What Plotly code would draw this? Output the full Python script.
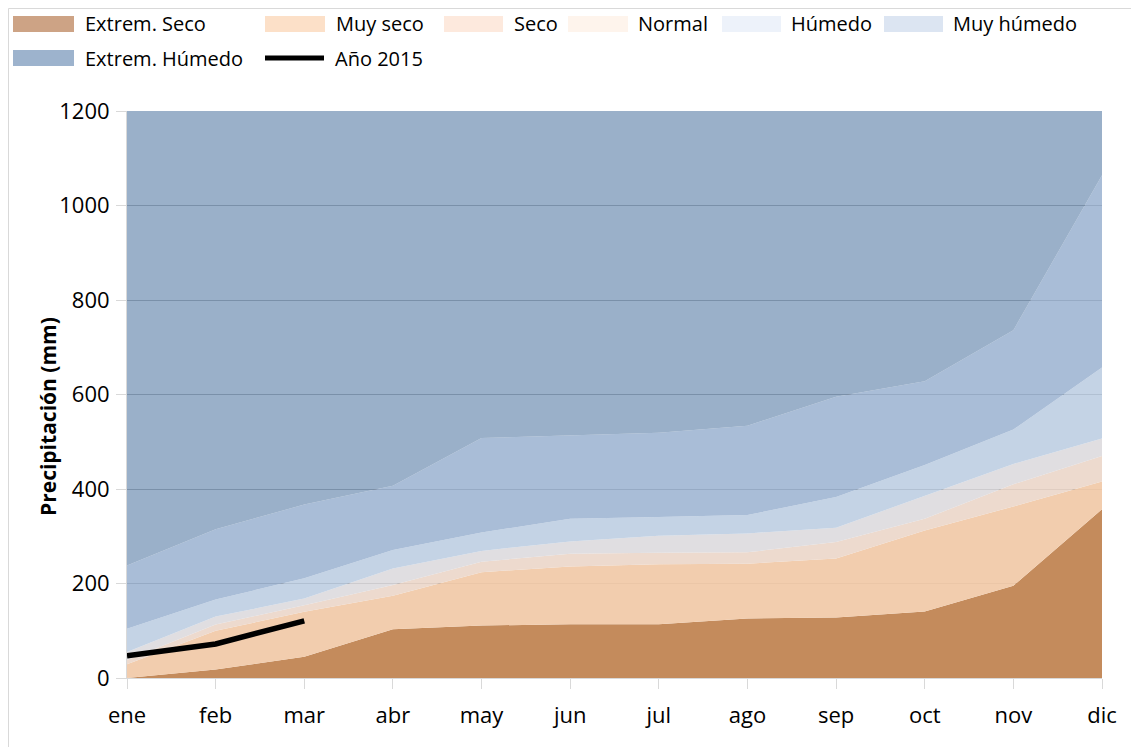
import plotly.graph_objects as go

# ---------------- data ----------------
months = ["ene", "feb", "mar", "abr", "may", "jun", "jul", "ago", "sep", "oct", "nov", "dic"]
extrem_seco = [0, 18, 45, 103, 111, 114, 114, 126, 128, 141, 195, 357]
muy_seco = [29, 100, 140, 174, 224, 236, 241, 242, 253, 312, 363, 416]
seco = [38, 113, 154, 197, 246, 263, 265, 266, 288, 337, 410, 470]
normal = [55, 130, 168, 232, 269, 289, 301, 306, 318, 385, 453, 507]
humedo = [104, 166, 211, 271, 308, 337, 341, 345, 383, 451, 526, 657]
muy_humedo = [238, 315, 367, 407, 508, 514, 519, 534, 595, 628, 736, 1064]
extrem_humedo = [1200, 1200, 1200, 1200, 1200, 1200, 1200, 1200, 1200, 1200, 1200, 1200]
anio_2015_months = ["ene", "feb", "mar"]
anio_2015 = [47, 72, 121]

series_names = ["Extrem. Seco", "Muy seco", "Seco", "Normal", "Húmedo", "Muy húmedo", "Extrem. Húmedo"]
series_values = [extrem_seco, muy_seco, seco, normal, humedo, muy_humedo, extrem_humedo]
area_colors = [
    "rgba(196,139,92,1)",
    "rgba(241,202,170,0.95)",
    "rgba(235,214,201,0.9)",
    "rgba(218,216,220,0.85)",
    "rgba(186,203,224,0.85)",
    "rgba(154,177,208,0.85)",
    "rgba(120,150,183,0.75)",
]
legend_colors = ["#CDA385", "#FCE0C8", "#FDE9DD", "#FEF4EC", "#EDF2FA", "#DCE5F2", "#9DB3CD"]

FONT = "Open Sans"
OFF = 8  # page body margin of the browser
W, H = 1139 - OFF, 747 - OFF
L, R, T, B = 127 - OFF, 37, 111 - OFF, 69
PW, PH = W - L - R, H - T - B


def px2x(px):
    """page pixel x -> paper x"""
    return (px - OFF - L) / PW


def py2y(py):
    """page pixel y -> paper y"""
    return (H - B - (py - OFF)) / PH


fig = go.Figure()
for i, (name, vals) in enumerate(zip(series_names, series_values)):
    fig.add_trace(go.Scatter(
        x=months, y=vals, name=name, mode="lines",
        line=dict(width=0, color=area_colors[i]),
        fill="tozeroy" if i == 0 else "tonexty",
        fillcolor=area_colors[i], showlegend=False,
        hoverinfo="x+y+name",
    ))

fig.add_trace(go.Scatter(
    x=anio_2015_months, y=anio_2015, name="Año 2015", mode="lines",
    line=dict(color="black", width=5.5), showlegend=False,
))

shapes = []
annotations = []

# outer chart frame (partly beyond the page, as in the reference)
shapes.append(dict(type="rect", xref="paper", yref="paper",
                   x0=px2x(OFF + 0.5), x1=px2x(1139 + 20), y0=py2y(747 + 20), y1=py2y(OFF + 0.5),
                   line=dict(color="#D9D9D9", width=1), fillcolor="rgba(0,0,0,0)", layer="below"))

# manual legend
row1, row2 = 24, 58
legend_items = [
    # (label, swatch x0, swatch x1, text x, row y, colour, kind)
    ("Extrem. Seco", 13, 74, 83, row1, legend_colors[0], "box"),
    ("Muy seco", 265, 325, 334, row1, legend_colors[1], "box"),
    ("Seco", 444, 503, 512, row1, legend_colors[2], "box"),
    ("Normal", 568, 628, 636, row1, legend_colors[3], "box"),
    ("Húmedo", 722, 781, 789, row1, legend_colors[4], "box"),
    ("Muy húmedo", 884, 943, 951, row1, legend_colors[5], "box"),
    ("Extrem. Húmedo", 13, 74, 83, row2, legend_colors[6], "box"),
    ("Año 2015", 265, 324, 333, row2, "black", "line"),
]
for label, sx0, sx1, tx, ry, col, kind in legend_items:
    if kind == "box":
        shapes.append(dict(type="rect", xref="paper", yref="paper",
                           x0=px2x(sx0), x1=px2x(sx1), y0=py2y(ry + 8), y1=py2y(ry - 8),
                           line=dict(width=0), fillcolor=col))
    else:
        shapes.append(dict(type="line", xref="paper", yref="paper",
                           x0=px2x(sx0), x1=px2x(sx1), y0=py2y(ry), y1=py2y(ry),
                           line=dict(color=col, width=5)))
    annotations.append(dict(text=label, xref="paper", yref="paper",
                            x=px2x(tx), y=py2y(ry), xanchor="left", yanchor="middle",
                            showarrow=False, font=dict(family=FONT, size=20, color="black")))

# y-axis title (placed like the reference, slightly below the axis centre)
annotations.append(dict(text="<b>Precipitación (mm)</b>", xref="paper", yref="paper",
                        x=px2x(48), y=py2y(417), xanchor="center", yanchor="middle",
                        textangle=-90, showarrow=False,
                        font=dict(family=FONT, size=21, color="black")))

fig.update_layout(
    width=W, height=H,
    margin=dict(l=L, r=R, t=T, b=B, pad=0),
    paper_bgcolor="white", plot_bgcolor="white",
    showlegend=False,
    shapes=shapes, annotations=annotations,
    font=dict(family=FONT, size=22, color="black"),
    xaxis=dict(
        type="category", categoryorder="array", categoryarray=months,
        range=[0, 11], showgrid=False, zeroline=False,
        showline=True, linecolor="#D9D9D9", linewidth=1,
        ticks="outside", ticklen=10, tickcolor="#D9D9D9", tickwidth=1,
        tickfont=dict(family=FONT, size=22, color="black"),
        ticklabelstandoff=8,
    ),
    yaxis=dict(
        range=[0, 1200], dtick=200, tick0=0,
        showgrid=True, gridcolor="#7F7F7F", gridwidth=1, zeroline=False,
        showline=True, linecolor="#D9D9D9", linewidth=1,
        ticks="outside", ticklen=10, tickcolor="#D9D9D9", tickwidth=1,
        tickfont=dict(family=FONT, size=22, color="black"),
        ticklabelstandoff=2,
    ),
)

fig.write_html("out.html")
